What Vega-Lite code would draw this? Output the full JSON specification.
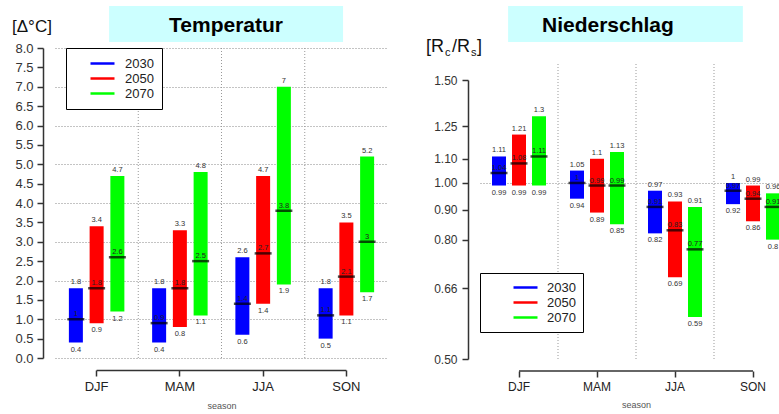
{
  "$schema": "https://vega.github.io/schema/vega-lite/v6.json",
  "background": "white",
  "padding": {"left": 12, "top": 5, "right": 0, "bottom": 0},
  "config": {"view": {"stroke": null}, "font": "Liberation Sans"},
  "datasets": {
    "temp": [
      {"season": "DJF", "year": "2030", "lo": 0.4, "med": 1, "hi": 1.8},
      {"season": "DJF", "year": "2050", "lo": 0.9, "med": 1.8, "hi": 3.4},
      {"season": "DJF", "year": "2070", "lo": 1.2, "med": 2.6, "hi": 4.7},
      {"season": "MAM", "year": "2030", "lo": 0.4, "med": 0.9, "hi": 1.8},
      {"season": "MAM", "year": "2050", "lo": 0.8, "med": 1.8, "hi": 3.3},
      {"season": "MAM", "year": "2070", "lo": 1.1, "med": 2.5, "hi": 4.8},
      {"season": "JJA", "year": "2030", "lo": 0.6, "med": 1.4, "hi": 2.6},
      {"season": "JJA", "year": "2050", "lo": 1.4, "med": 2.7, "hi": 4.7},
      {"season": "JJA", "year": "2070", "lo": 1.9, "med": 3.8, "hi": 7},
      {"season": "SON", "year": "2030", "lo": 0.5, "med": 1.1, "hi": 1.8},
      {"season": "SON", "year": "2050", "lo": 1.1, "med": 2.1, "hi": 3.5},
      {"season": "SON", "year": "2070", "lo": 1.7, "med": 3, "hi": 5.2}
    ],
    "prec": [
      {"season": "DJF", "year": "2030", "lo": 0.99, "med": 1.04, "hi": 1.11},
      {"season": "DJF", "year": "2050", "lo": 0.99, "med": 1.08, "hi": 1.21},
      {"season": "DJF", "year": "2070", "lo": 0.99, "med": 1.11, "hi": 1.3},
      {"season": "MAM", "year": "2030", "lo": 0.94, "med": 1, "hi": 1.05},
      {"season": "MAM", "year": "2050", "lo": 0.89, "med": 0.99, "hi": 1.1},
      {"season": "MAM", "year": "2070", "lo": 0.85, "med": 0.99, "hi": 1.13},
      {"season": "JJA", "year": "2030", "lo": 0.82, "med": 0.91, "hi": 0.97},
      {"season": "JJA", "year": "2050", "lo": 0.69, "med": 0.83, "hi": 0.93},
      {"season": "JJA", "year": "2070", "lo": 0.59, "med": 0.77, "hi": 0.91},
      {"season": "SON", "year": "2030", "lo": 0.92, "med": 0.97, "hi": 1},
      {"season": "SON", "year": "2050", "lo": 0.86, "med": 0.94, "hi": 0.99},
      {"season": "SON", "year": "2070", "lo": 0.8, "med": 0.91, "hi": 0.96}
    ]
  },
  "spacing": 38,
  "resolve": {"scale": {"color": "independent", "x": "independent", "y": "independent", "xOffset": "independent"}, "legend": {"color": "independent"}},
  "hconcat": [
    {
      "width": 333,
      "height": 310,
      "data": {"name": "temp"},
      "encoding": {
        "x": {"field": "season", "type": "nominal",
          "scale": {"domain": ["DJF", "MAM", "JJA", "SON"], "paddingInner": 0, "paddingOuter": 0},
          "axis": {"offset": 12, "domain": false, "tickSize": 6, "tickColor": "#333", "tickWidth": 1.5, "labelFontSize": 13, "labelColor": "#222", "labelPadding": 4, "labelAngle": 0, "title": "season", "titleFontSize": 9, "titleFontWeight": "normal", "titleColor": "#555", "titlePadding": 8, "grid": false}},
        "xOffset": {"field": "year", "type": "nominal", "scale": {"paddingInner": 0.325, "paddingOuter": 0.669}}
      },
      "layer": [
        {
          "data": {"values": [{"s": "MAM"}, {"s": "JJA"}, {"s": "SON"}]},
          "mark": {"type": "rule", "strokeDash": [1, 2], "color": "#999", "strokeWidth": 1},
          "encoding": {"x": {"field": "s", "type": "nominal", "bandPosition": 0}, "xOffset": null}
        },
        {
          "data": {"values": [{"label": "Temperatur"}]},
          "mark": {"type": "rect", "color": "#ccffff"},
          "encoding": {
            "x": {"datum": "DJF", "bandPosition": 0.65}, "x2": {"datum": "SON", "bandPosition": 0.46},
            "y": {"datum": 9.084}, "y2": {"datum": 8.155}, "xOffset": null
          }
        },
        {
          "data": {"values": [{"label": "Temperatur"}]},
          "mark": {"type": "text", "fontSize": 21, "fontWeight": "bold", "baseline": "alphabetic", "align": "center", "color": "black"},
          "encoding": {
            "x": {"datum": "JJA", "bandPosition": 0.054},
            "y": {"datum": 8.413}, "text": {"field": "label"}, "xOffset": null
          }
        },
        {
          "data": {"values": [{"label": "[Δ°C]"}]},
          "mark": {"type": "text", "fontSize": 17, "baseline": "alphabetic", "align": "left", "dx": -43, "dy": -16, "color": "#111"},
          "encoding": {"x": {"datum": "DJF", "bandPosition": 0}, "y": {"datum": 8}, "text": {"field": "label"}, "xOffset": null}
        },
        {
          "data": {"values": [{}]},
          "mark": {"type": "rule", "color": "#333", "strokeWidth": 1.5},
          "encoding": {"x": {"datum": "DJF", "bandPosition": 0.5}, "x2": {"datum": "SON", "bandPosition": 0.5}, "y": {"datum": -0.32}, "xOffset": null}
        },
        {
          "mark": {"type": "bar"},
          "encoding": {
            "y": {"field": "lo", "type": "quantitative",
              "scale": {"domain": [0, 8], "nice": false, "zero": false},
              "axis": {"values": [0, 0.5, 1, 1.5, 2, 2.5, 3, 3.5, 4, 4.5, 5, 5.5, 6, 6.5, 7, 7.5, 8], "tickCount": 40, "format": ".1f", "labelOverlap": false, "offset": 12, "tickSize": 6, "labelPadding": 4, "labelFontSize": 13, "labelColor": "#333", "domainColor": "#333", "tickColor": "#333", "domainWidth": 1.5, "tickWidth": 1.5, "title": null,
                "grid": true, "gridDash": [1, 2], "gridColor": "#888",
                "gridOpacity": {"condition": {"test": "datum.value % 1 === 0", "value": 1}, "value": 0}}},
            "y2": {"field": "hi"},
            "color": {"field": "year", "type": "nominal",
              "scale": {"domain": ["2030", "2050", "2070"], "range": ["#0000ff", "#ff0000", "#00ff00"]},
              "legend": {"orient": "none", "legendX": 11, "legendY": 0, "title": null, "symbolType": "M-2,0H2", "symbolSize": 144, "symbolStrokeWidth": 2.5, "strokeColor": "black", "fillColor": "white", "padding": 8, "rowPadding": 0, "labelFontSize": 13, "labelColor": "#222", "symbolOffset": 21, "labelOffset": 15,
                "encode": {"symbols": {"update": {"stroke": [{"test": "datum.label === '2030'", "value": "#0000ff"}, {"test": "datum.label === '2050'", "value": "#ff0000"}, {"value": "#00ff00"}]}}}}}
          }
        },
        {
          "mark": {"type": "tick", "color": "black", "thickness": 2.5, "size": 17},
          "encoding": {"y": {"field": "med", "type": "quantitative"}}
        },
        {
          "mark": {"type": "text", "baseline": "bottom", "dy": -2, "fontSize": 7.5, "color": "#333"},
          "encoding": {"y": {"field": "hi", "type": "quantitative"}, "text": {"field": "hi", "format": "~g"}}
        },
        {
          "mark": {"type": "text", "baseline": "top", "dy": 3, "fontSize": 7.5, "color": "#333"},
          "encoding": {"y": {"field": "lo", "type": "quantitative"}, "text": {"field": "lo", "format": "~g"}}
        },
        {
          "mark": {"type": "text", "baseline": "bottom", "dy": -1, "fontSize": 7.5, "color": "#222"},
          "encoding": {"y": {"field": "med", "type": "quantitative"}, "text": {"field": "med", "format": "~g"}}
        }
      ]
    },
    {
      "width": 299,
      "height": 311,
      "data": {"name": "prec"},
      "encoding": {
        "x": {"field": "season", "type": "nominal",
          "scale": {"domain": ["DJF", "MAM", "JJA", "SON"], "paddingInner": 0, "paddingOuter": 0, "range": [0, 312]},
          "axis": {"offset": 12, "domain": false, "tickSize": 6, "tickColor": "#333", "tickWidth": 1.5, "labelFontSize": 12, "labelColor": "#222", "labelPadding": 4, "labelAngle": 0, "title": "season", "titleFontSize": 9, "titleFontWeight": "normal", "titleColor": "#555", "titlePadding": 8, "grid": false}},
        "xOffset": {"field": "year", "type": "nominal", "scale": {"paddingInner": 0.3, "paddingOuter": 0.6}}
      },
      "layer": [
        {
          "data": {"values": [{"s": "MAM"}, {"s": "JJA"}, {"s": "SON"}]},
          "mark": {"type": "rule", "strokeDash": [1, 2], "color": "#999", "strokeWidth": 1},
          "encoding": {"x": {"field": "s", "type": "nominal", "bandPosition": 0}, "y": {"datum": 0.5}, "y2": {"datum": 1.6}, "xOffset": null}
        },
        {
          "data": {"values": [{"label": "Niederschlag"}]},
          "mark": {"type": "rect", "color": "#ccffff"},
          "encoding": {
            "x": {"datum": "DJF", "bandPosition": 0.36}, "x2": {"datum": "SON", "bandPosition": 0.37},
            "y": {"datum": 2.007}, "y2": {"datum": 1.742}, "xOffset": null
          }
        },
        {
          "data": {"values": [{"label": "Niederschlag"}]},
          "mark": {"type": "text", "fontSize": 21, "fontWeight": "bold", "baseline": "alphabetic", "align": "center", "color": "black"},
          "encoding": {"x": {"datum": "JJA", "bandPosition": -0.36}, "y": {"datum": 1.812}, "text": {"field": "label"}, "xOffset": null}
        },
        {
          "data": {"values": [{}]},
          "mark": {"type": "text", "text": "[R", "fontSize": 18, "align": "left", "baseline": "alphabetic", "dx": -54, "dy": -28, "color": "#111"},
          "encoding": {"x": {"datum": "DJF", "bandPosition": 0}, "y": {"datum": 1.5}, "xOffset": null}
        },
        {
          "data": {"values": [{}]},
          "mark": {"type": "text", "text": "c", "fontSize": 11, "align": "left", "baseline": "alphabetic", "dx": -35, "dy": -24, "color": "#111"},
          "encoding": {"x": {"datum": "DJF", "bandPosition": 0}, "y": {"datum": 1.5}, "xOffset": null}
        },
        {
          "data": {"values": [{}]},
          "mark": {"type": "text", "text": "/R", "fontSize": 18, "align": "left", "baseline": "alphabetic", "dx": -28, "dy": -28, "color": "#111"},
          "encoding": {"x": {"datum": "DJF", "bandPosition": 0}, "y": {"datum": 1.5}, "xOffset": null}
        },
        {
          "data": {"values": [{}]},
          "mark": {"type": "text", "text": "s", "fontSize": 11, "align": "left", "baseline": "alphabetic", "dx": -9, "dy": -24, "color": "#111"},
          "encoding": {"x": {"datum": "DJF", "bandPosition": 0}, "y": {"datum": 1.5}, "xOffset": null}
        },
        {
          "data": {"values": [{}]},
          "mark": {"type": "text", "text": "]", "fontSize": 18, "align": "left", "baseline": "alphabetic", "dx": -3, "dy": -28, "color": "#111"},
          "encoding": {"x": {"datum": "DJF", "bandPosition": 0}, "y": {"datum": 1.5}, "xOffset": null}
        },
        {
          "data": {"values": [{}]},
          "mark": {"type": "rule", "color": "#333", "strokeWidth": 1.5},
          "encoding": {"x": {"datum": "DJF", "bandPosition": 0.5}, "x2": {"datum": "SON", "bandPosition": 0.5}, "y": {"datum": 0.477}, "xOffset": null}
        },
        {
          "mark": {"type": "bar", "clip": true},
          "encoding": {
            "y": {"field": "lo", "type": "quantitative",
              "scale": {"type": "log", "domain": [0.5, 1.5], "nice": false, "range": [311, 32]},
              "axis": {"values": [0.5, 0.66, 0.8, 0.9, 1, 1.1, 1.25, 1.5], "tickCount": 40, "format": ".2f", "labelOverlap": false, "offset": 12, "tickSize": 6, "labelPadding": 5, "labelFontSize": 12, "labelColor": "#333", "domainColor": "#333", "tickColor": "#333", "domainWidth": 1.5, "tickWidth": 1.5, "title": null,
                "grid": true, "gridDash": [1, 2], "gridColor": "#888",
                "gridOpacity": {"condition": {"test": "datum.value === 1", "value": 1}, "value": 0}}},
            "y2": {"field": "hi"},
            "color": {"field": "year", "type": "nominal",
              "scale": {"domain": ["2030", "2050", "2070"], "range": ["#0000ff", "#ff0000", "#00ff00"]},
              "legend": {"orient": "none", "legendX": 0, "legendY": 225, "title": null, "symbolType": "M-2,0H2", "symbolSize": 144, "symbolStrokeWidth": 2.5, "strokeColor": "black", "fillColor": "white", "padding": 7, "rowPadding": 0, "labelFontSize": 13, "labelColor": "#222", "symbolOffset": 31, "labelOffset": 14,
                "encode": {"symbols": {"update": {"stroke": [{"test": "datum.label === '2030'", "value": "#0000ff"}, {"test": "datum.label === '2050'", "value": "#ff0000"}, {"value": "#00ff00"}]}}}}}
          }
        },
        {
          "mark": {"type": "tick", "color": "black", "thickness": 2.5, "size": 17, "clip": true},
          "encoding": {"y": {"field": "med", "type": "quantitative"}}
        },
        {
          "mark": {"type": "text", "baseline": "bottom", "dy": -2, "fontSize": 7.5, "color": "#333", "clip": true},
          "encoding": {"y": {"field": "hi", "type": "quantitative"}, "text": {"field": "hi", "format": "~g"}}
        },
        {
          "mark": {"type": "text", "baseline": "top", "dy": 3, "fontSize": 7.5, "color": "#333", "clip": true},
          "encoding": {"y": {"field": "lo", "type": "quantitative"}, "text": {"field": "lo", "format": "~g"}}
        },
        {
          "mark": {"type": "text", "baseline": "bottom", "dy": -1, "fontSize": 7.5, "color": "#222", "clip": true},
          "encoding": {"y": {"field": "med", "type": "quantitative"}, "text": {"field": "med", "format": "~g"}}
        }
      ]
    }
  ]
}
